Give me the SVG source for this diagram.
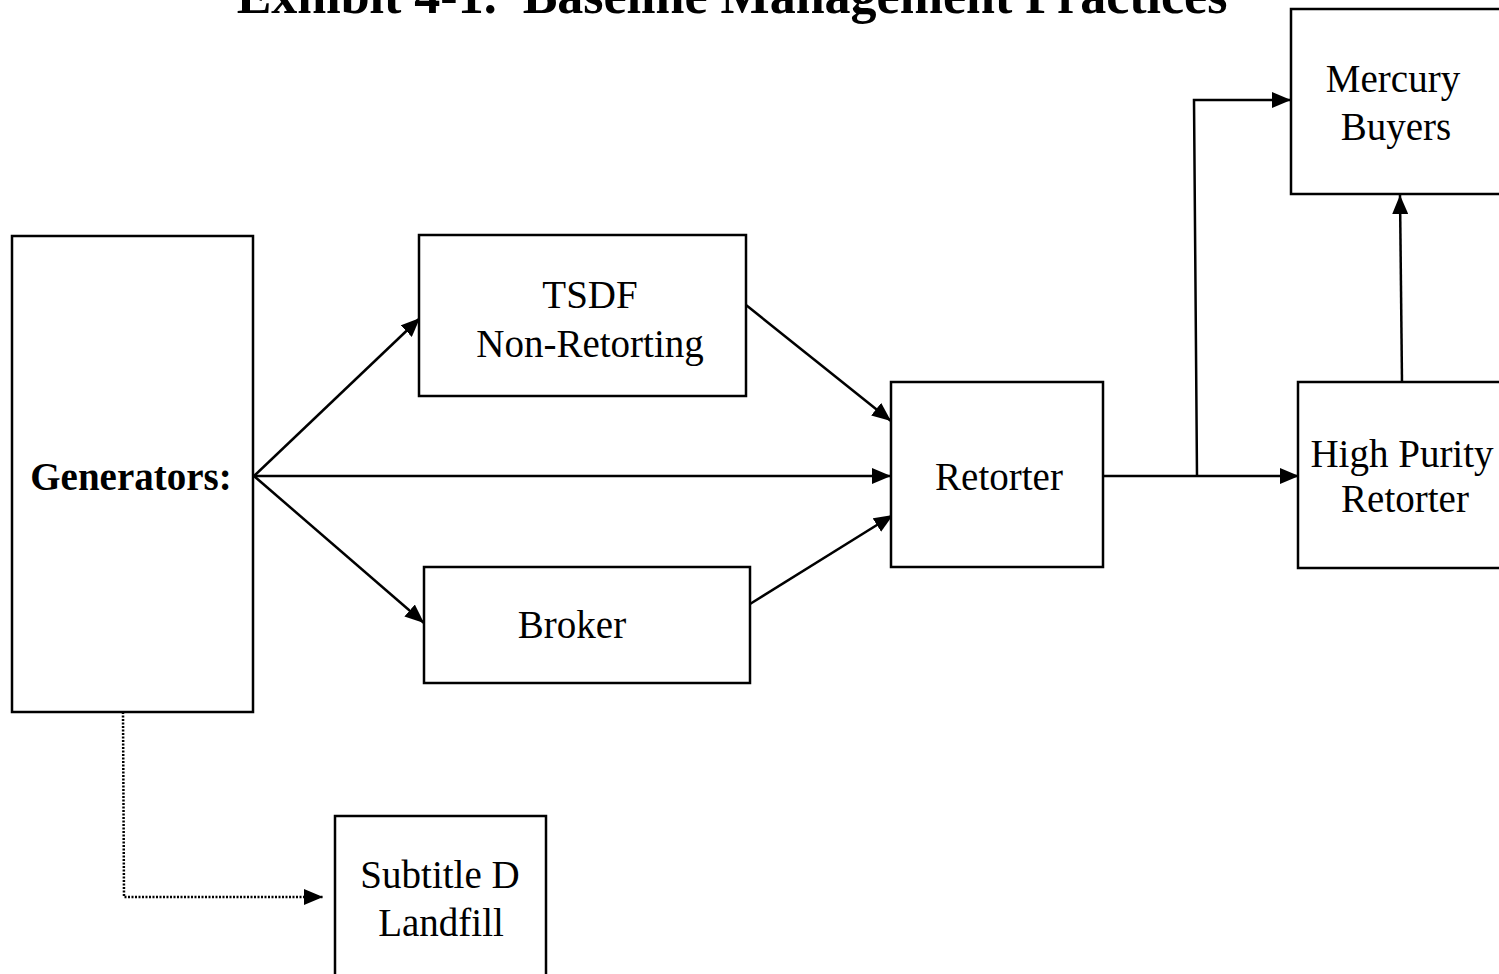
<svg xmlns="http://www.w3.org/2000/svg" width="1499" height="974" viewBox="0 0 1499 974">
<style>
.box{fill:#fff;stroke:#000;stroke-width:2.5}
.t{font-family:"Liberation Serif","Times New Roman",serif;font-size:39px;fill:#000;text-anchor:middle}
.b{font-weight:bold}
.c{fill:none;stroke:#000;stroke-width:2.5}
.d{fill:none;stroke:#000;stroke-width:2.5;stroke-dasharray:2 1.5}
</style>
<defs>
<marker id="a" viewBox="0 0 19 16" refX="19" refY="8" markerWidth="19" markerHeight="16" markerUnits="userSpaceOnUse" orient="auto">
<path d="M0,0 L19,8 L0,16 z" fill="#000"/>
</marker>
</defs>
<rect width="1499" height="974" fill="#fff"/>
<text class="t b" x="732" y="13" style="font-size:52px" xml:space="preserve">Exhibit 4-1.  Baseline Management Practices</text>
<g id="connectors">
<line class="c" x1="254" y1="476" x2="420" y2="318" marker-end="url(#a)"/>
<line class="c" x1="254" y1="476" x2="891" y2="476" marker-end="url(#a)"/>
<line class="c" x1="254" y1="476" x2="424" y2="623" marker-end="url(#a)"/>
<line class="c" x1="746" y1="305" x2="891" y2="421" marker-end="url(#a)"/>
<line class="c" x1="750" y1="604" x2="893" y2="515" marker-end="url(#a)"/>
<line class="c" x1="1103" y1="476" x2="1299" y2="476" marker-end="url(#a)"/>
<polyline class="c" points="1197,476 1194,100 1291,100" marker-end="url(#a)"/>
<line class="c" x1="1402" y1="382" x2="1400" y2="195" marker-end="url(#a)"/>
<polyline class="d" points="123,712 124,897 323,897" marker-end="url(#a)"/>
</g>
<g id="generators">
<rect class="box" x="12" y="236" width="241" height="476"/>
<text class="t b" x="131" y="490">Generators:</text>
</g>
<g id="tsdf">
<rect class="box" x="419" y="235" width="327" height="161"/>
<text class="t" x="590" y="308">TSDF</text>
<text class="t" x="590" y="357">Non-Retorting</text>
</g>
<g id="broker">
<rect class="box" x="424" y="567" width="326" height="116"/>
<text class="t" x="572" y="638">Broker</text>
</g>
<g id="retorter">
<rect class="box" x="891" y="382" width="212" height="185"/>
<text class="t" x="999" y="490">Retorter</text>
</g>
<g id="high-purity-retorter">
<rect class="box" x="1298" y="382" width="215" height="186"/>
<text class="t" x="1402" y="467">High Purity</text>
<text class="t" x="1405" y="512">Retorter</text>
</g>
<g id="mercury-buyers">
<rect class="box" x="1291" y="9" width="222" height="185"/>
<text class="t" x="1393" y="92">Mercury</text>
<text class="t" x="1396" y="140">Buyers</text>
</g>
<g id="subtitle-d-landfill">
<rect class="box" x="335" y="816" width="211" height="170"/>
<text class="t" x="440" y="888">Subtitle D</text>
<text class="t" x="441" y="936">Landfill</text>
</g>
</svg>
